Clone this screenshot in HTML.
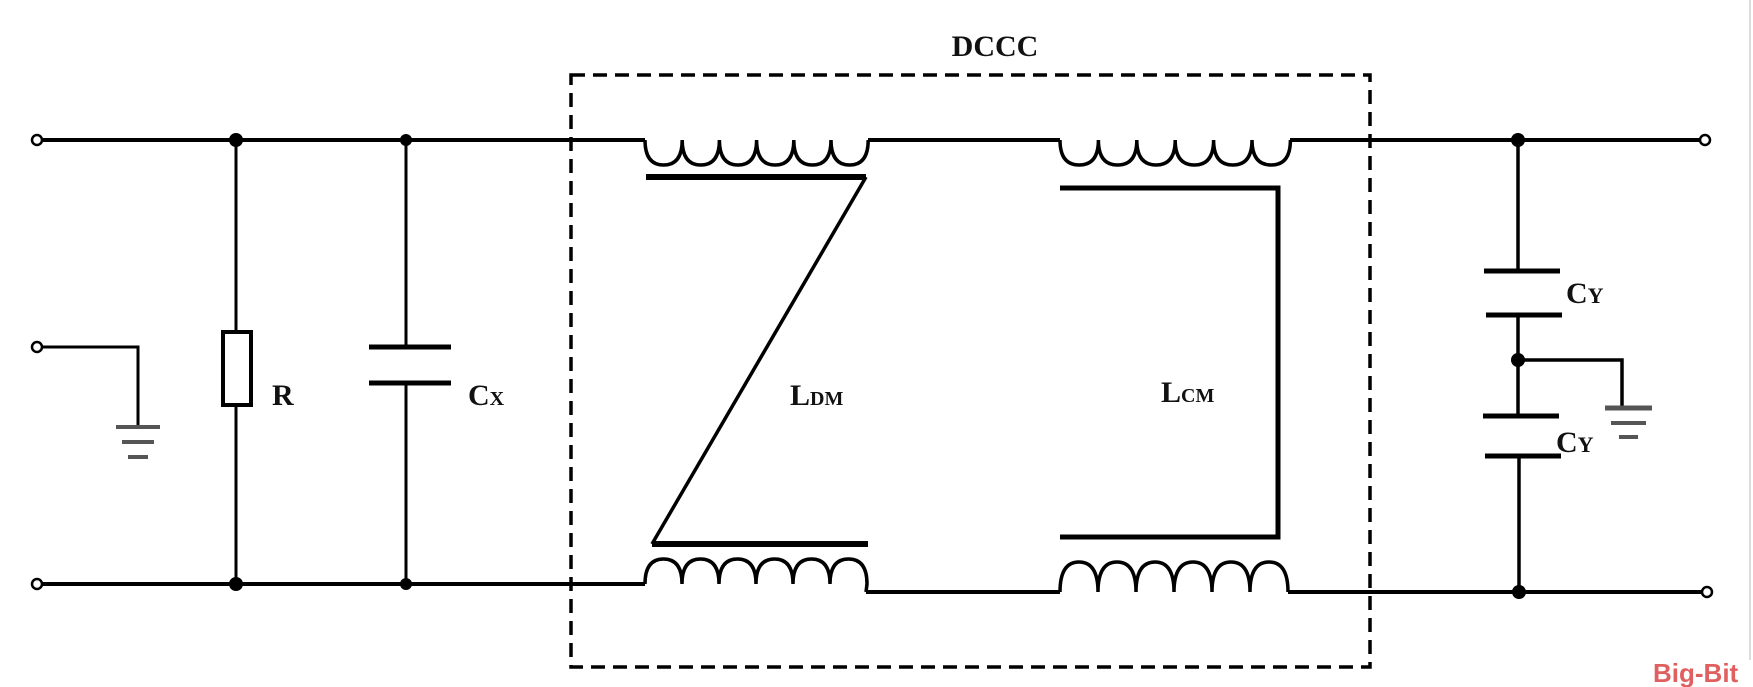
<!DOCTYPE html>
<html><head><meta charset="utf-8"><style>
html,body{margin:0;padding:0;background:#fff;}
svg{display:block;}
text{font-family:"Liberation Serif",serif;font-weight:bold;fill:#111;}
</style></head><body>
<svg width="1753" height="687" viewBox="0 0 1753 687" xmlns="http://www.w3.org/2000/svg">
<g stroke="#000" stroke-width="4" fill="none" stroke-linecap="butt">
<!-- top line -->
<line x1="41" y1="140" x2="645" y2="140"/>
<line x1="868" y1="140" x2="1060" y2="140"/>
<line x1="1290" y1="140" x2="1701" y2="140"/>
<!-- bottom line -->
<line x1="41" y1="584" x2="645" y2="584"/>
<line x1="866" y1="592" x2="1060" y2="592"/>
<line x1="1288" y1="592" x2="1701" y2="592"/>
<!-- top coils (bumps down) -->
<path d="M645 140 q0 25 18.6 25 q18.6 0 18.6 -25 q0 25 18.6 25 q18.6 0 18.6 -25 q0 25 18.6 25 q18.6 0 18.6 -25 q0 25 18.6 25 q18.6 0 18.6 -25 q0 25 18.6 25 q18.6 0 18.6 -25 q0 25 18.6 25 q18.6 0 18.6 -25" stroke-width="3.5"/>
<path d="M1060 140 q0 25 19.2 25 q19.2 0 19.2 -25 q0 25 19.2 25 q19.2 0 19.2 -25 q0 25 19.2 25 q19.2 0 19.2 -25 q0 25 19.2 25 q19.2 0 19.2 -25 q0 25 19.2 25 q19.2 0 19.2 -25 q0 25 19.2 25 q19.2 0 19.2 -25" stroke-width="3.5"/>
<!-- bottom coils (bumps up) -->
<path d="M645 584 q0 -25 18.5 -25 q18.5 0 18.5 25 q0 -25 18.5 -25 q18.5 0 18.5 25 q0 -25 18.5 -25 q18.5 0 18.5 25 q0 -25 18.5 -25 q18.5 0 18.5 25 q0 -25 18.5 -25 q18.5 0 18.5 25 q0 -25 18.5 -25 q18.5 0 18.5 25 L866 592" stroke-width="3.5"/>
<path d="M1060 592 q0 -30 19 -30 q19 0 19 30 q0 -30 19 -30 q19 0 19 30 q0 -30 19 -30 q19 0 19 30 q0 -30 19 -30 q19 0 19 30 q0 -30 19 -30 q19 0 19 30 q0 -30 19 -30 q19 0 19 30" stroke-width="3.5"/>
<!-- cores -->
<line x1="646" y1="177" x2="866" y2="177" stroke-width="6"/>
<line x1="866" y1="177" x2="652" y2="544" stroke-width="3.5"/>
<line x1="652" y1="544" x2="868" y2="544" stroke-width="6"/>
<polyline points="1060,188 1278,188 1278,537 1060,537" stroke-width="5"/>
<line x1="1278" y1="188" x2="1278" y2="537" stroke-width="3.5"/>
<!-- left ground -->
<polyline points="41,347 138,347 138,425" stroke-width="3"/>
<line x1="116" y1="427" x2="160" y2="427" stroke-width="4" stroke="#555"/>
<line x1="122" y1="442" x2="154" y2="442" stroke-width="4" stroke="#555"/>
<line x1="128" y1="457" x2="148" y2="457" stroke-width="4" stroke="#555"/>
<!-- R -->
<line x1="236" y1="140" x2="236" y2="332" stroke-width="3"/>
<rect x="223" y="332" width="28" height="73" stroke-width="4"/>
<line x1="236" y1="405" x2="236" y2="584" stroke-width="3"/>
<!-- Cx -->
<line x1="406" y1="140" x2="406" y2="347" stroke-width="3"/>
<line x1="369" y1="347" x2="451" y2="347" stroke-width="5"/>
<line x1="369" y1="383" x2="451" y2="383" stroke-width="5"/>
<line x1="406" y1="383" x2="406" y2="584" stroke-width="3"/>
<!-- Cy -->
<line x1="1518" y1="140" x2="1518" y2="271" stroke-width="3.5"/>
<line x1="1484" y1="271" x2="1560" y2="271" stroke-width="5"/>
<line x1="1486" y1="315" x2="1562" y2="315" stroke-width="5"/>
<line x1="1518" y1="315" x2="1518" y2="416" stroke-width="3.5"/>
<polyline points="1518,360 1622,360 1622,407" stroke-width="3.5"/>
<line x1="1483" y1="416" x2="1559" y2="416" stroke-width="5"/>
<line x1="1485" y1="456" x2="1561" y2="456" stroke-width="5"/>
<line x1="1519" y1="456" x2="1519" y2="592" stroke-width="3.5"/>
<line x1="1605" y1="408" x2="1652" y2="408" stroke-width="5" stroke="#555"/>
<line x1="1611" y1="423" x2="1646" y2="423" stroke-width="4" stroke="#555"/>
<line x1="1619" y1="437" x2="1638" y2="437" stroke-width="4" stroke="#555"/>
<!-- dashed box -->
<rect x="571" y="75" width="799" height="592" stroke-width="3.5" stroke-dasharray="14,8"/>
<!-- terminals -->
<circle cx="37" cy="140" r="5" stroke-width="2.5" fill="#fff"/>
<circle cx="37" cy="347" r="5" stroke-width="2.5" fill="#fff"/>
<circle cx="37" cy="584" r="5" stroke-width="2.5" fill="#fff"/>
<circle cx="1705" cy="140" r="5" stroke-width="2.5" fill="#fff"/>
<circle cx="1707" cy="592" r="5" stroke-width="2.5" fill="#fff"/>
<line x1="1750" y1="0" x2="1750" y2="660" stroke="#ddd" stroke-width="2"/>
</g>
<g fill="#000">
<circle cx="236" cy="140" r="7"/><circle cx="236" cy="584" r="7"/>
<circle cx="406" cy="140" r="6"/><circle cx="406" cy="584" r="6"/>
<circle cx="1518" cy="140" r="7"/><circle cx="1518" cy="360" r="7"/><circle cx="1519" cy="592" r="7"/>
</g>
<text x="995" y="56" font-size="30" text-anchor="middle">DCCC</text>
<text x="272" y="405" font-size="30">R</text>
<text x="468" y="405" font-size="30">C<tspan font-size="20">X</tspan></text>
<text x="790" y="405" font-size="30">L<tspan font-size="20">DM</tspan></text>
<text x="1161" y="402" font-size="30">L<tspan font-size="20">CM</tspan></text>
<text x="1566" y="303" font-size="30">C<tspan font-size="22">Y</tspan></text>
<text x="1556" y="452" font-size="30">C<tspan font-size="22">Y</tspan></text>
<text x="1653" y="682" font-size="26" style="font-family:'Liberation Sans',sans-serif;fill:#e06060;">Big-Bit</text>
</svg>
</body></html>
